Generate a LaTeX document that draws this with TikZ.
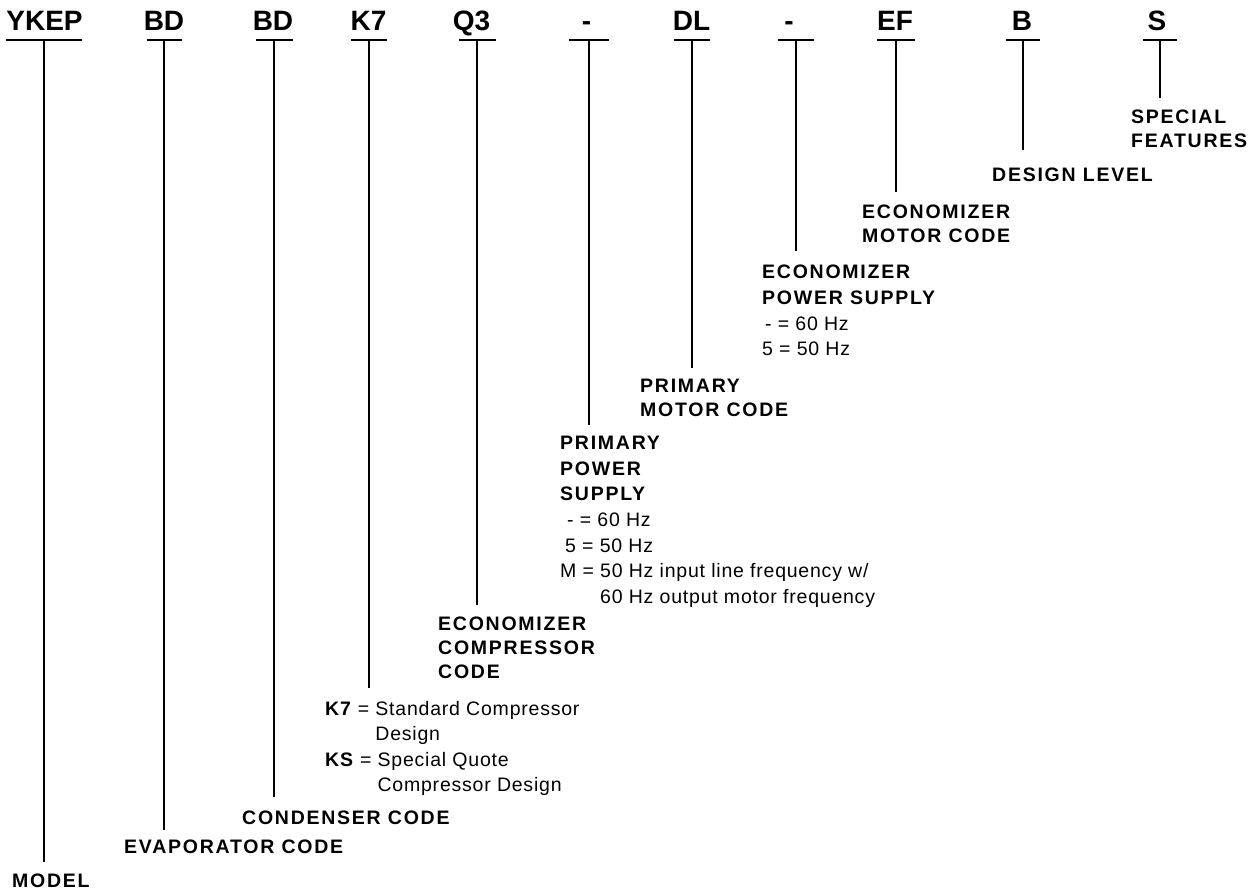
\documentclass[tikz,border=0pt]{standalone}
\usepackage{fontspec}
\setmainfont{Liberation Sans}
\newfontfamily\lblfont{Liberation Sans}[LetterSpace=9]
\newfontfamily\txtfont{Liberation Sans}[LetterSpace=4]
\begin{document}
\begin{tikzpicture}[x=1pt,y=-1pt,
  code/.style={font=\fontsize{28}{30}\selectfont\bfseries, anchor=base, inner sep=0pt},
  bar/.style={line width=2.8pt},
  stem/.style={line width=2pt},
  lbl/.style={font=\lblfont\fontsize{19.5}{24}\selectfont\bfseries, align=left, anchor=north west, inner sep=0pt},
  lblw/.style={font=\lblfont\fontsize{19.5}{25.6}\selectfont\bfseries, align=left, anchor=north west, inner sep=0pt}]
\useasboundingbox (0,0) rectangle (1253,895);

% code letters
\node[code] (c1) at (44.5,30) {YKEP};
\node[code] (c2) at (164,30) {BD};
\node[code] (c3) at (273,30) {BD};
\node[code] (c4) at (368.5,30) {K7};
\node[code] (c5) at (471.5,30) {Q3};
\node[code] (c6) at (586.5,30) {-};
\node[code] (c7) at (691.5,30) {DL};
\node[code] (c8) at (789,30) {-};
\node[code] (c9) at (895,30) {EF};
\node[code] (c10) at (1022,30) {B};
\node[code] (c11) at (1157,30) {S};

% bar centres (stem tops)
\coordinate (b1) at (44,40);
\coordinate (b2) at (164,40);
\coordinate (b3) at (274,40);
\coordinate (b4) at (369,40);
\coordinate (b5) at (477,40);
\coordinate (b6) at (589,40);
\coordinate (b7) at (692,40);
\coordinate (b8) at (796,40);
\coordinate (b9) at (896,40);
\coordinate (b10) at (1023,40);
\coordinate (b11) at (1160,40);

% labels
\node[lbl] (l1) at (12,874) {MODEL};
\node[lbl] (l2) at (124,840) {EVAPORATOR CODE};
\node[lbl] (l3) at (242,811) {CONDENSER CODE};
\node[lbl, font=\txtfont\fontsize{19.5}{25.5}\selectfont] (l4) at (325,701)
  {\textbf{K7} = Standard Compressor\\
   \phantom{\textbf{K7} = }Design\\
   \textbf{KS} = Special Quote\\
   \phantom{\textbf{KS} = }Compressor Design};
\node[lbl] (l5) at (438,617) {ECONOMIZER\\COMPRESSOR\\CODE};
\node[lblw] (l6) at (560,436)
  {PRIMARY\\POWER\\SUPPLY\\
   {\txtfont\mdseries\hspace*{7pt}- = 60 Hz}\\
   {\txtfont\mdseries\hspace*{5pt}5 = 50 Hz}\\
   {\txtfont\mdseries M = 50 Hz input line frequency w/}\\
   {\txtfont\mdseries\phantom{M = }60 Hz output motor frequency}};
\node[lbl] (l7) at (640,379) {PRIMARY\\MOTOR CODE};
\node[lblw] (l8) at (762,265)
  {ECONOMIZER\\POWER SUPPLY\\
   {\txtfont\mdseries\hspace*{3pt}- = 60 Hz}\\
   {\txtfont\mdseries 5 = 50 Hz}};
\node[lbl] (l9) at (862,205) {ECONOMIZER\\MOTOR CODE};
\node[lbl] (l10) at (992,168) {DESIGN LEVEL};
\node[lbl] (l11) at (1131,110) {SPECIAL\\FEATURES};

% bars
\draw[bar] ([xshift=-38pt]b1) -- ([xshift=38pt]b1);
\draw[bar] ([xshift=-17.5pt]b2) -- ([xshift=17.5pt]b2);
\draw[bar] ([xshift=-18.5pt]b3) -- ([xshift=18.5pt]b3);
\draw[bar] ([xshift=-18pt]b4) -- ([xshift=18pt]b4);
\draw[bar] ([xshift=-18.5pt]b5) -- ([xshift=18.5pt]b5);
\draw[bar] ([xshift=-20pt]b6) -- ([xshift=20pt]b6);
\draw[bar] ([xshift=-18pt]b7) -- ([xshift=18pt]b7);
\draw[bar] ([xshift=-18pt]b8) -- ([xshift=18pt]b8);
\draw[bar] ([xshift=-19pt]b9) -- ([xshift=19pt]b9);
\draw[bar] ([xshift=-17pt]b10) -- ([xshift=17pt]b10);
\draw[bar] ([xshift=-17pt]b11) -- ([xshift=17pt]b11);

% stems
\draw[stem] (b1) -- ([yshift=12pt]b1 |- l1.north);
\draw[stem] (b2) -- ([yshift=10pt]b2 |- l2.north);
\draw[stem] (b3) -- ([yshift=14pt]b3 |- l3.north);
\draw[stem] (b4) -- ([yshift=13pt]b4 |- l4.north);
\draw[stem] (b5) -- ([yshift=12pt]b5 |- l5.north);
\draw[stem] (b6) -- ([yshift=11pt]b6 |- l6.north);
\draw[stem] (b7) -- ([yshift=11pt]b7 |- l7.north);
\draw[stem] (b8) -- ([yshift=14pt]b8 |- l8.north);
\draw[stem] (b9) -- ([yshift=13pt]b9 |- l9.north);
\draw[stem] (b10) -- ([yshift=18pt]b10 |- l10.north);
\draw[stem] (b11) -- ([yshift=12pt]b11 |- l11.north);
\end{tikzpicture}
\end{document}
